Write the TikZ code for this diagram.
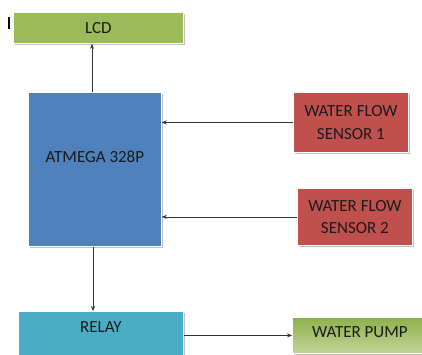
\documentclass[tikz,border=0pt]{standalone}
\usepackage{fontspec}
\setmainfont{Carlito}
\usetikzlibrary{arrows.meta,shadows}
\definecolor{olive}{HTML}{9BBB59}
\definecolor{oliveL}{HTML}{C2D69B}
\definecolor{oliveD}{HTML}{8EB04A}
\definecolor{blu}{HTML}{4F81BD}
\definecolor{redb}{HTML}{C0504D}
\definecolor{aqua}{HTML}{4BACC6}
\definecolor{txt}{HTML}{1A1A1A}
\tikzset{
  box/.style={draw=white, line width=0.8pt, inner sep=4pt, text=txt,
    font=\fontsize{17}{22.5}\selectfont, align=center,
    drop shadow={shadow xshift=2pt, shadow yshift=-2pt, fill=black!30, opacity=0.8}},
  arr/.style={draw=black!80, line width=0.7pt, -{Stealth[length=5pt,width=4pt]}},
}
\begin{document}
\begin{tikzpicture}[x=1pt,y=-1pt]
\useasboundingbox (0,0) rectangle (422,354);
\clip (0,0) rectangle (422,354);
\fill[white] (0,0) rectangle (422,354);
\node[box, fill=olive, anchor=north west, minimum width=170pt, minimum height=31pt] (lcd) at (13,12) {LCD};
\coordinate (cur1) at (9,17);
\coordinate (cur2) at (9,29);
\draw[line width=1.2pt, black] (cur1) -- (cur2);
\node[box, fill=blu, anchor=north west, minimum width=133pt, minimum height=154pt, text height=19pt, text depth=33pt] (mcu) at (28,92) {ATMEGA 328P};
\node[box, fill=redb, anchor=north west, minimum width=115pt, minimum height=60pt] (s1) at (293,92) {WATER FLOW\\SENSOR 1};
\node[box, fill=redb, anchor=north west, minimum width=115pt, minimum height=57pt] (s2) at (297,188) {WATER FLOW\\SENSOR 2};
\node[box, fill=aqua, anchor=north west, minimum width=165pt, text height=17pt, text depth=40pt] (relay) at (18,311) {RELAY};
\node[box, top color=oliveD, bottom color=oliveL, anchor=north west, minimum width=135pt, text height=16pt, text depth=12pt] (pump) at (292,317) {WATER PUMP};
\draw[arr] (mcu.north -| 92,0) -- (lcd.south -| 92,0);
\draw[arr] (mcu.south -| 93,0) -- (relay.north -| 93,0);
\draw[arr] (s1.west) -- (mcu.east |- s1.west);
\draw[arr] (s2.west) -- (mcu.east |- s2.west);
\draw[arr] (relay.east |- pump.west) -- (pump.west);
\end{tikzpicture}
\end{document}
